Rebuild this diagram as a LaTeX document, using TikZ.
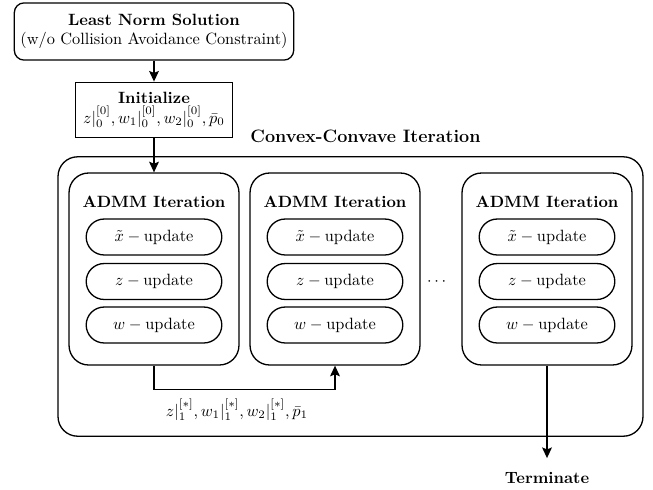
\documentclass[tikz,border=0pt]{standalone}
\usepackage{amsmath,amssymb}
\usepackage{tikz}
\usetikzlibrary{arrows,arrows.meta,positioning,calc}
\tikzset{block/.style={draw,rounded corners=6pt,align=center}}

\begin{document}
\begin{tikzpicture}[-, >={Stealth[length=6.5pt,width=6pt,inset=1.2pt]}, thick, x=0.612pt, y=-0.612pt]
\tikzstyle{admm}=[draw,rounded corners=12pt,minimum width=104pt,minimum height=117.5pt]
\tikzstyle{upd}=[draw,rounded corners=11pt,minimum width=83pt,minimum height=22pt]
\useasboundingbox (0,0) rectangle (653,489);
    \node[block,minimum width=171pt,minimum height=35pt] (lns) at (154,31.5) {\textbf{Least Norm Solution}\\(w/o Collision Avoidance Constraint)};
    \node[draw,align=center,minimum width=96pt,minimum height=34pt] (init) at (154,110) {\textbf{Initialize}\\$z|_0^{[0]}, w_1|_0^{[0]}, w_2|_0^{[0]}, \bar{p}_0$};
    \node[draw,rounded corners=12pt,minimum width=358pt,minimum height=171pt] (cci) at (350.5,296.5) {};
    \node[font=\fontsize{11}{13}\selectfont] (ccitext) at (365.5,136) {\textbf{Convex-Convave Iteration}};
    \foreach \i/\x in {1/154,2/335,3/547} {
        \node[admm] (admm\i) at (\x,269) {};
        \node (head\i) at (\x,202) {\textbf{ADMM Iteration}};
        \node[upd] (xu\i) at (\x,237) {$\tilde{x} - \text{update}$};
        \node[upd] (zu\i) at (\x,281.5) {$z - \text{update}$};
        \node[upd] (wu\i) at (\x,325) {$w - \text{update}$};
    }
    \node (dots) at (438,282) {$\cdots$};
    \node (pass) at (237,410) {$z|_1^{[*]}, w_1|_1^{[*]}, w_2|_1^{[*]}, \bar{p}_1$};
    \node (term) at (547,478) {\textbf{Terminate}};
    \draw[->] (lns) -- (init);
    \draw[->] (init) -- (admm1);
    \draw[->] (admm1.south) -- ++(0,24) -| (admm2.south);
    \draw[->,shorten >=5pt] (admm3.south) -- (term.north);
\end{tikzpicture}
\end{document}
